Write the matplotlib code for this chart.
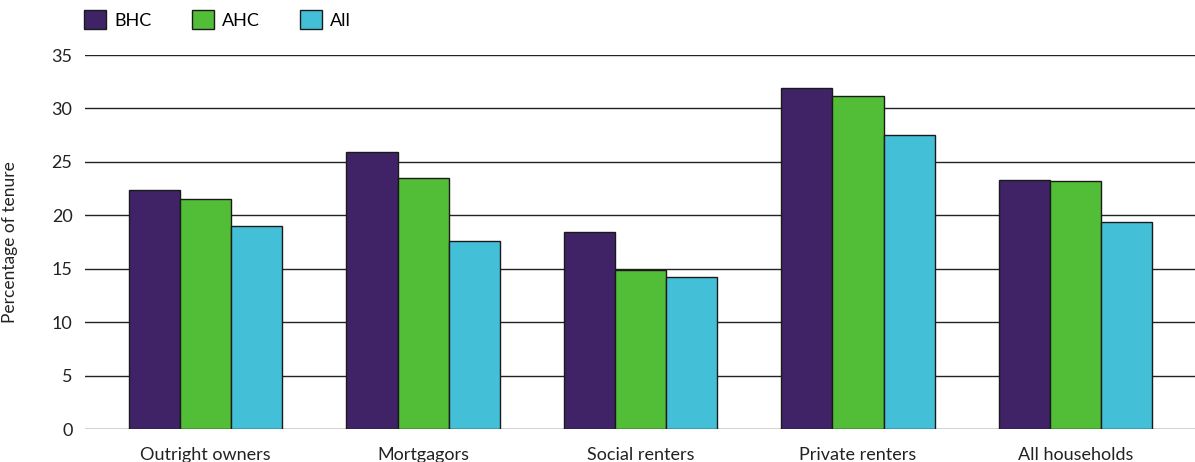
import matplotlib.pyplot as plt
import numpy as np

plt.rcParams['font.family'] = ['Lato', 'DejaVu Sans']

categories = ["Outright owners", "Mortgagors", "Social renters", "Private renters", "All households"]
bhc = [22.4, 25.9, 18.4, 31.9, 23.3]
ahc = [21.5, 23.5, 14.9, 31.2, 23.2]
all_hh = [19.0, 17.6, 14.2, 27.5, 19.4]
series_names = ["BHC", "AHC", "All"]
colors = ["#3F2366", "#52BD37", "#43C0D8"]

fig = plt.figure(figsize=(11.95, 4.62), dpi=100)
ax = fig.add_axes([85/1195, 1 - 429/462, 1110/1195, (429 - 55)/462])

x = np.arange(len(categories))
w = 0.235
for i, (vals, name, c) in enumerate(zip([bhc, ahc, all_hh], series_names, colors)):
    ax.bar(x + (i - 1) * w, vals, w, color=c, edgecolor="#1a1a1a", linewidth=1, label=name, zorder=3)

ax.set_ylim(0, 35)
ax.set_xlim(-0.555, 4.55)
ax.set_yticks(range(0, 36, 5))
ax.yaxis.grid(True, color="#222222", linewidth=1, zorder=0)
ax.set_axisbelow(True)
for s in ax.spines.values():
    s.set_visible(False)
ax.tick_params(axis='y', length=0, pad=9, labelsize=13, colors="#222222")
ax.tick_params(axis='x', length=0, pad=13, labelsize=13, colors="#222222")
ax.set_xticks(x)
ax.set_xticklabels(categories)
ax.set_ylabel("Percentage of tenure", fontsize=12.5, color="#222222", labelpad=24)

leg = fig.legend(loc="upper left", bbox_to_anchor=(68/1195, 1 + 6/462), ncol=3, frameon=False,
                 fontsize=13, handlelength=1.2, handleheight=1.2, columnspacing=2.25,
                 handletextpad=0.45)

fig.savefig("out.png", dpi=100)
